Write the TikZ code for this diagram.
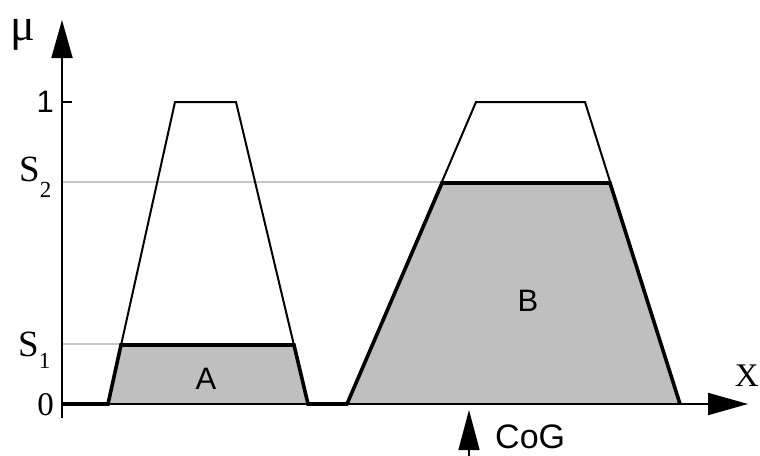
\documentclass[tikz,border=0pt]{standalone}
\usepackage{fontspec}
\setmainfont{Liberation Serif}
\setsansfont{Liberation Sans}
\usetikzlibrary{arrows.meta}
\begin{document}
\begin{tikzpicture}[x=1pt,y=-1pt,
  thinline/.style={line width=2pt, line join=miter},
  thickline/.style={line width=3.6pt, line join=miter},
  guide/.style={draw=black!22, line width=2.6pt},
  axis/.style={line width=1.8pt},
  bigtip/.style={-{Triangle[length=38pt,width=21pt]}},
  sanslab/.style={font=\sffamily\fontsize{31}{31}\selectfont, inner sep=0pt}]
\useasboundingbox (0,0) rectangle (760,455);
\fill[white] (0,0) rectangle (760,455);
% key points
\coordinate (o) at (62,404);
\coordinate (ya) at (62,418);
\coordinate (yt) at (62,20);
\coordinate (xt) at (748,404);
\coordinate (a0) at (108,404);
\coordinate (a1) at (175,102);
\coordinate (a2) at (236,102);
\coordinate (a3) at (308,404);
\coordinate (as1) at (121,345);
\coordinate (as2) at (294,345);
\coordinate (b0) at (347,404);
\coordinate (b1) at (476,102);
\coordinate (b2) at (585,102);
\coordinate (b3) at (680,404);
\coordinate (bs1) at (442,183);
\coordinate (bs2) at (610,183);
\coordinate (g2) at (62,182);
\coordinate (g1) at (62,344);
\coordinate (t1a) at (62,102);
\coordinate (t1b) at (72,102);
\coordinate (cogb) at (469,456);
\coordinate (cogt) at (469,410);
% guides
\draw[guide] (g2) -- (bs1 |- g2);
\draw[guide] (g1) -- (as1 |- g1);
% fills
\fill[black!25] (a0) -- (as1) -- (as2) -- (a3) -- cycle;
\fill[black!25] (b0) -- (bs1) -- (bs2) -- (b3) -- cycle;
% thin outlines
\draw[thinline] (a0) -- (a1) -- (a2) -- (a3);
\draw[thinline] (b0) -- (b1) -- (b2) -- (b3);
% axes
\draw[axis, bigtip] (ya) -- (yt);
\draw[axis, -{Triangle[length=40pt,width=22pt]}] (o) -- (xt);
\draw[axis] (t1a) -- (t1b);
% thick aggregated output
\draw[thickline] (o) -- (a0) -- (as1) -- (as2) -- (a3) -- (b0) -- (bs1) -- (bs2) -- (b3);
% CoG arrow
\draw[line width=1.4pt, -{Triangle[length=40pt,width=21pt]}] (cogb) -- (cogt);
% labels
\node[anchor=base west, inner sep=0pt, font=\fontsize{46}{46}\selectfont] (mu) at (10,40) {μ};
\node[anchor=base east, inner sep=0pt, font=\sffamily\fontsize{31}{31}\selectfont] (one) at (54,112) {1};
\node[anchor=base east, inner sep=0pt, font=\fontsize{33}{33}\selectfont] (zero) at (54,415) {0};
\node[anchor=base west, inner sep=0pt, font=\fontsize{37}{37}\selectfont] (s2) at (19,181) {S\raisebox{-16pt}{\fontsize{23}{23}\selectfont 2}};
\node[anchor=base west, inner sep=0pt, font=\fontsize{37}{37}\selectfont] (s1) at (18,356) {S\raisebox{-12pt}{\fontsize{23}{23}\selectfont 1}};
\node[anchor=base, sanslab] (la) at (206,389) {A};
\node[anchor=base, sanslab] (lb) at (528,311) {B};
\node[anchor=base west, inner sep=0pt, font=\sffamily\fontsize{34}{34}\selectfont] (cog) at (495,448) {CoG};
\node[anchor=base east, inner sep=0pt, font=\fontsize{33}{33}\selectfont] (lx) at (759,386) {X};
\end{tikzpicture}
\end{document}
